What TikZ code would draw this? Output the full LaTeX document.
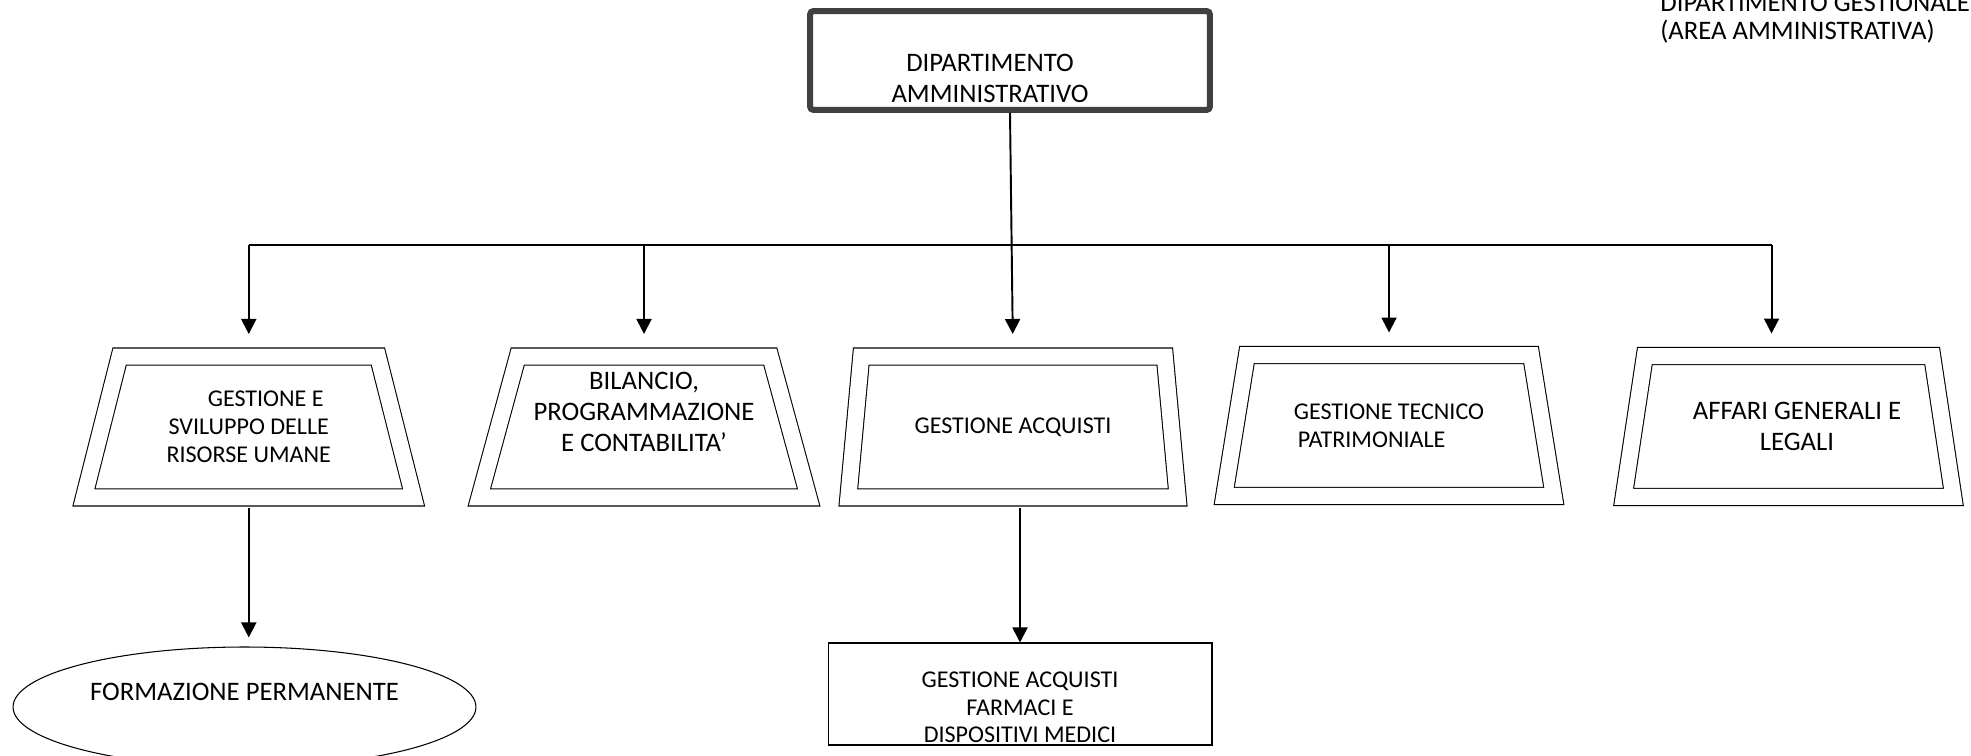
\documentclass[tikz,border=0pt]{standalone}
\usepackage{fontspec}
\setmainfont{Carlito}
\usepackage{tikz}
\usetikzlibrary{positioning, calc, shapes.geometric, arrows.meta}

\begin{document}
\begin{tikzpicture}[x=0.02cm, y=-0.02cm,
					SmallText/.style={font=\fontsize{13.7}{16}\selectfont},
					BigText/.style={font=\fontsize{15.2}{17.6}\selectfont},
					DeptNode/.style={rectangle, draw=black!75, line width=0.12cm, rounded corners=2pt, minimum width=8cm, minimum height=1.98cm, inner ysep=2pt, align=center, BigText},
					UnitNode/.style={trapezium, draw, line width=0.6pt, double, double distance=0.32cm, trapezium angle=73.8, trapezium stretches=true, minimum width=6.6cm, minimum height=2.82cm, outer sep=0pt, align=center, SmallText},
					SubNode/.style={draw, line width=0.6pt, inner sep=0pt, align=center},
					Conn/.style={line width=1.1pt, -{Triangle[width=0.3cm, length=0.3cm]}}]

				\useasboundingbox (0,0) rectangle (1971,756);

				\node[DeptNode] (Dept) at (1010,60.5) {\strut\\DIPARTIMENTO\rule{0.8cm}{0pt}\\AMMINISTRATIVO\rule{0.8cm}{0pt}};
				\node[anchor=west, align=left, inner sep=0pt, font=\fontsize{15.2}{16}\selectfont] (Area) at (1660,19) {DIPARTIMENTO GESTIONALE\\(AREA AMMINISTRATIVA)};

				\node[UnitNode] (Personale) at (248.75,427) {\rule{0.68cm}{0pt}GESTIONE E\\SVILUPPO DELLE\\RISORSE UMANE};
				\node[UnitNode, BigText] (Bilancio) at (644,427) {BILANCIO,\\PROGRAMMAZIONE\\E CONTABILITA’\\\mbox{}};
				\node[UnitNode] (Acquisti) at (1013,427) {GESTIONE ACQUISTI};
				\node[UnitNode, align=left] (Tecnico) at (1389,425.5) {GESTIONE TECNICO\\\rule{0.08cm}{0pt}PATRIMONIALE};
				\node[UnitNode, BigText] (Affari) at (1788.5,426.5) {\rule{0.34cm}{0pt}AFFARI GENERALI E\\\rule{0.34cm}{0pt}LEGALI};

				\node[SubNode, ellipse, BigText, minimum width=9.26cm, minimum height=2.4cm] (Formazione) at (244.5,707) {FORMAZIONE PERMANENTE\\\mbox{}};
				\node[SubNode, font=\fontsize{13.7}{15.6}\selectfont, minimum width=7.68cm, minimum height=2.04cm] (Farmaci) at (1020,694) {\raisebox{0pt}[25pt][0pt]{\begin{tabular}{@{}c@{}}GESTIONE ACQUISTI\\FARMACI E\\DISPOSITIVI MEDICI\end{tabular}}};

				% bus under the department
				\coordinate (Bus) at (1010,245);
				\coordinate (AffariIn) at ($(Affari.north) - (0.34cm,0)$);
				\draw[line width=1.1pt] (Personale.north |- Bus) -- (AffariIn |- Bus);
				\draw[Conn, shorten >=0.45cm] (Dept.south) -- (Acquisti.north);
				\foreach \u in {Personale, Bilancio, Tecnico}
					\draw[Conn, shorten >=0.45cm] (\u.north |- Bus) -- (\u.north);
				\draw[Conn, shorten >=0.45cm] (AffariIn |- Bus) -- (AffariIn);

				\draw[Conn, shorten <=0.21cm, shorten >=0.18cm] (Personale.south) -- (Personale.south |- Formazione.north);
				\draw[Conn, shorten <=0.21cm] (Farmaci.north |- Acquisti.south) -- (Farmaci.north);
			\end{tikzpicture}
\end{document}
